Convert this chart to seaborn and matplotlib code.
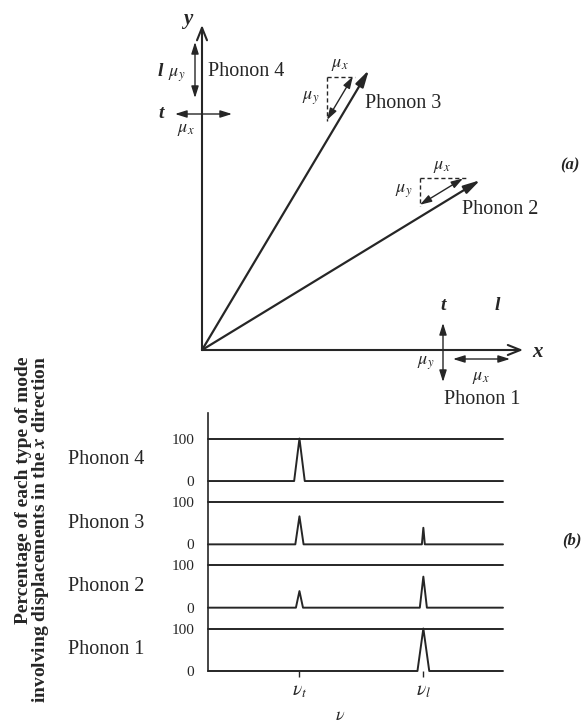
import numpy as np
import pandas as pd
import matplotlib
matplotlib.use("Agg")
import matplotlib.pyplot as plt
from matplotlib.transforms import blended_transform_factory
import seaborn as sns

# ---------------- data ----------------
phonons = ["Phonon 1", "Phonon 2", "Phonon 3", "Phonon 4"]
direction_deg = [0.0, 31.4, 59.2, 90.0]          # propagation directions, panel (a)
nu_names = [r"$\nu_t$", r"$\nu_l$"]
nu_positions = [3.1, 7.3]
pct_at_nu_t = [0, 39, 66, 100]                    # % x-displacement at nu_t
pct_at_nu_l = [100, 73, 39, 0]                    # % x-displacement at nu_l
halfwidth_t = [0.15, 0.12, 0.14, 0.18]
halfwidth_l = [0.20, 0.12, 0.05, 0.15]
pct_ticks = [0, 100]
pct_tick_labels = ["0", "100"]

# ---------------- style ----------------
sns.set_theme(style="white")
plt.rcParams["font.family"] = ["Liberation Serif", "DejaVu Serif"]
plt.rcParams["mathtext.fontset"] = "stix"

INK = "#262626"
FS = 14.5
W, H = 582, 728
fig = plt.figure(figsize=(W / 100, H / 100), dpi=100)
fig.patch.set_facecolor("white")

# ---------------- panel (a) ----------------
ax_a = fig.add_axes([0, 1 - 410 / H, 1, 410 / H])
ax_a.set_xlim(-202 / 326, (W - 202) / 326)
ax_a.set_ylim((350 - 410) / 326, 350 / 326)
ax_a.axis("off")


def P(px, py):
    return ((px - 202) / 326, (350 - py) / 326)


def arrow(a, b, style, ms, lw, ls="-"):
    ax_a.annotate("", xy=b, xytext=a, xycoords="data", textcoords="data",
                  arrowprops=dict(arrowstyle=style, mutation_scale=ms, lw=lw,
                                  color=INK, shrinkA=0, shrinkB=0, linestyle=ls))


DBL = "<|-|>,head_length=0.7,head_width=0.22"
axis_len = [0.985, 1.0, 1.0, 0.997]
for i, deg in enumerate(direction_deg):
    th = np.radians(deg)
    tip = (axis_len[i] * np.cos(th), axis_len[i] * np.sin(th))
    if i in (0, 3):
        arrow((0, 0), tip, "->,head_length=0.45,head_width=0.18", 20, 1.5)
    else:
        arrow((0, 0), tip, "-|>,head_length=0.5,head_width=0.13", 20, 1.6)
        u = np.array([np.cos(th), np.sin(th)])
        n = np.array([-np.sin(th), np.cos(th)])
        c = 0.88 * u + 0.032 * n
        p0 = c - 0.0775 * u
        p1 = c + 0.0775 * u
        corner = np.array([p0[0], p1[1]])
        arrow(tuple(p0), tuple(p1), DBL, 10, 1.0)
        ax_a.plot([corner[0], p1[0] + 0.008], [corner[1], corner[1]], ls=(0, (3, 2)),
                  color=INK, lw=1.0)
        ax_a.plot([corner[0], corner[0]], [corner[1], p0[1] - 0.004], ls=(0, (3, 2)),
                  color=INK, lw=1.0)
        ax_a.text((corner[0] + p1[0]) / 2, corner[1] + 0.037, r"$\mu_x$", fontsize=13,
                  ha="center", va="center", color=INK)
        ax_a.text(corner[0] - 0.05, (corner[1] + p0[1]) / 2, r"$\mu_y$", fontsize=13,
                  ha="center", va="center", color=INK)

BI = dict(fontstyle="italic", fontweight="bold", color=INK, ha="center", va="center")
ax_a.text(*P(188, 19), "y", fontsize=15, **BI)
ax_a.text(*P(537, 352), "x", fontsize=15, **BI)

# phonon 4 (along y)
arrow(P(195, 42), P(195, 98), DBL, 10, 1.0)
arrow(P(175, 114), P(232, 114), DBL, 10, 1.0)
ax_a.text(*P(160, 71), "l", fontsize=14, **BI)
ax_a.text(*P(161, 114), "t", fontsize=14, **BI)
ax_a.text(*P(177, 75), r"$\mu_y$", fontsize=13, ha="center", va="center", color=INK)
ax_a.text(*P(186, 129), r"$\mu_x$", fontsize=13, ha="center", va="center", color=INK)
ax_a.text(*P(208, 71), phonons[3], fontsize=FS, ha="left", va="center", color=INK)

# phonon 3 / 2 labels
ax_a.text(*P(365, 104), phonons[2], fontsize=FS, ha="left", va="center", color=INK)
ax_a.text(*P(462, 210), phonons[1], fontsize=FS, ha="left", va="center", color=INK)

# phonon 1 (along x)
arrow(P(443, 323), P(443, 382), DBL, 10, 1.0)
arrow(P(453, 359), P(510, 359), DBL, 10, 1.0)
ax_a.text(*P(443, 306), "t", fontsize=14, **BI)
ax_a.text(*P(497, 305), "l", fontsize=14, **BI)
ax_a.text(*P(426, 363), r"$\mu_y$", fontsize=13, ha="center", va="center", color=INK)
ax_a.text(*P(481, 377), r"$\mu_x$", fontsize=13, ha="center", va="center", color=INK)
ax_a.text(*P(482, 399), phonons[0], fontsize=FS, ha="center", va="center", color=INK)

ax_a.text(*P(570, 165), "(a)", fontsize=12, **BI)

# ---------------- panel (b) ----------------
ax_b = fig.add_axes([208 / W, 1 - 671 / H, 295 / W, 258 / H])
spacing = 149
offsets = [k * spacing for k in range(len(phonons))]
rows = []
for k, name in enumerate(phonons):
    pts = [(0.0, 0.0)]
    peaks = sorted(zip(nu_positions, [pct_at_nu_t[k], pct_at_nu_l[k]],
                       [halfwidth_t[k], halfwidth_l[k]]))
    for nu, h, w in peaks:
        pts += [(nu - w, 0.0), (nu, h), (nu + w, 0.0)]
    pts.append((10.0, 0.0))
    for x, y in pts:
        rows.append(dict(phonon=name, nu=x, pct=y, y=offsets[k] + y))
df = pd.DataFrame(rows)

sns.lineplot(data=df, x="nu", y="y", units="phonon", estimator=None, sort=False,
             color=INK, lw=1.4, ax=ax_b, legend=False)
for off in offsets:
    ax_b.axhline(off + 100, color=INK, lw=1.4, clip_on=False)
for line in ax_b.lines:
    line.set_clip_on(False)

ax_b.set_xlim(0, 10)
ax_b.set_ylim(0, 258 / 0.425)
for s in ["top", "right", "bottom"]:
    ax_b.spines[s].set_visible(False)
ax_b.spines["left"].set_color(INK)
ax_b.spines["left"].set_linewidth(1.2)

ax_b.set_yticks([off + t for off in offsets for t in pct_ticks])
ax_b.set_yticklabels([lab for off in offsets for lab in pct_tick_labels])
ax_b.tick_params(axis="y", left=False, length=0, pad=10, labelsize=11, labelcolor=INK)
ax_b.set_xticks(nu_positions)
ax_b.set_xticklabels(nu_names)
ax_b.tick_params(axis="x", bottom=True, length=4, width=1, direction="out", pad=5,
                 labelsize=14, color=INK, labelcolor=INK)
ax_b.set_xlabel("")
ax_b.set_ylabel("")

trans = blended_transform_factory(fig.transFigure, ax_b.transData)
for k, name in enumerate(phonons):
    ax_b.text(68 / W, offsets[k] + 50, name, transform=trans, ha="left", va="center",
              fontsize=FS, color=INK)

fig.text(33 / W, 1 - 530 / H,
         "Percentage of each type of mode\ninvolving displacements in the $\\mathbfit{x}$ direction",
         rotation=90, ha="center", va="center", multialignment="right",
         fontweight="bold", fontsize=14, linespacing=0.85, color=INK)
fig.text(340 / W, 1 - 715 / H, r"$\nu$", fontsize=13, ha="center", va="center", color=INK)
fig.text(572 / W, 1 - 540 / H, "(b)", fontsize=12, fontstyle="italic", fontweight="bold",
         ha="center", va="center", color=INK)

fig.savefig("out.png", dpi=100, facecolor="white")
